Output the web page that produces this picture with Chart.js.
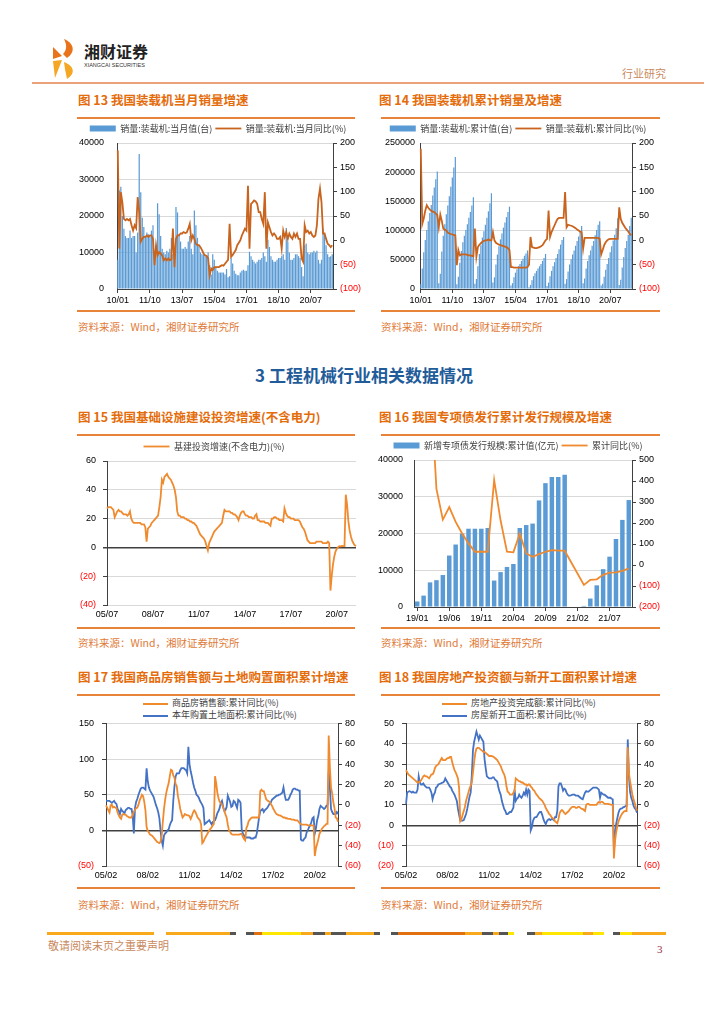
<!DOCTYPE html>
<html>
<head>
<meta charset="utf-8">
<script src="https://cdn.jsdelivr.net/npm/chart.js@4.4.0/dist/chart.umd.min.js"></script>
<style>
  body { margin: 0; width: 724px; height: 1024px; background: #fff; position: relative; overflow: hidden;
         font-family: "Noto Sans CJK SC", sans-serif; }
  .abs { position: absolute; white-space: nowrap; }
  .title { position: absolute; color: #E46C0A; font-weight: 700; font-size: 12.5px; line-height: 14px; white-space: nowrap; }
  .rule { position: absolute; height: 2px; background: #E8833A; }
  .src { position: absolute; color: #E07B39; font-size: 10.5px; line-height: 12px; white-space: nowrap; }
  canvas { position: absolute; }
  .lg { position: absolute; font-size: 9px; line-height: 11px; color: #404040; white-space: nowrap; }
  .lg i { display: inline-block; width: 25px; height: 2px; vertical-align: middle; margin-right: 4px; }
</style>
</head>
<body>

<!-- header -->
<svg class="abs" style="left:50px;top:38px" width="32" height="42" viewBox="0 0 32 42">
  <path d="M14 1 C24 5 26 14 17 20 L13 16 C17 12 17 7 14 1 Z" fill="#E8731A"/>
  <path d="M3 9 L12 18 L3 21 Z" fill="#E8731A"/>
  <path d="M3 23 L12 22 L5 40 Z" fill="#F5A623"/>
  <path d="M14 24 C24 28 26 35 17 41 L15 31 Z" fill="#F5A623"/>
</svg>
<div class="abs" style="left:84px;top:42px;font-size:16px;font-weight:700;color:#222;line-height:19px;">湘财证券</div>
<div class="abs" style="left:84px;top:62px;font-size:5.5px;color:#333;line-height:7px;font-family:'Liberation Sans',sans-serif;">XIANGCAI SECURITIES</div>
<div class="abs" style="left:622px;top:67px;font-size:11px;color:#C98A5E;line-height:13px;">行业研究</div>
<div class="abs" style="left:32px;top:82px;width:672px;height:2px;background:#E9A27A;"></div>

<!-- row 1 -->
<div class="title" style="left:78px;top:93px;">图 13 我国装载机当月销量增速</div>
<div class="title" style="left:379px;top:93px;">图 14 我国装载机累计销量及增速</div>
<div class="rule" style="left:77px;top:117px;width:278px;"></div>
<div class="rule" style="left:381px;top:117px;width:279px;"></div>
<canvas id="c13" width="292" height="187" style="left:72px;top:121px"></canvas>
<canvas id="c14" width="292" height="187" style="left:372px;top:121px"></canvas>
<div class="rule" style="left:77px;top:310px;width:278px;"></div>
<div class="rule" style="left:381px;top:310px;width:279px;"></div>
<div class="src" style="left:78px;top:321px;">资料来源：Wind，湘财证券研究所</div>
<div class="src" style="left:381px;top:321px;">资料来源：Wind，湘财证券研究所</div>

<div class="abs" style="left:0;width:728px;top:365px;text-align:center;font-size:17px;font-weight:700;color:#1F5C99;line-height:20px;">3 工程机械行业相关数据情况</div>

<!-- row 2 -->
<div class="title" style="left:78px;top:410px;">图 15 我国基础设施建设投资增速(不含电力)</div>
<div class="title" style="left:379px;top:410px;">图 16 我国专项债发行累计发行规模及增速</div>
<div class="rule" style="left:77px;top:434px;width:278px;"></div>
<div class="rule" style="left:381px;top:434px;width:279px;"></div>
<canvas id="c15" width="292" height="187" style="left:72px;top:437px"></canvas>
<canvas id="c16" width="292" height="189" style="left:372px;top:437px"></canvas>
<div class="rule" style="left:77px;top:627px;width:278px;"></div>
<div class="rule" style="left:381px;top:627px;width:279px;"></div>
<div class="src" style="left:78px;top:637px;">资料来源：Wind，湘财证券研究所</div>
<div class="src" style="left:381px;top:637px;">资料来源：Wind，湘财证券研究所</div>

<!-- row 3 -->
<div class="title" style="left:78px;top:670px;">图 17 我国商品房销售额与土地购置面积累计增速</div>
<div class="title" style="left:379px;top:670px;">图 18 我国房地产投资额与新开工面积累计增速</div>
<div class="rule" style="left:77px;top:694px;width:278px;"></div>
<div class="rule" style="left:381px;top:694px;width:279px;"></div>
<div class="lg" style="left:143px;top:697px;"><i style="background:#F08A2E"></i>商品房销售额:累计同比(%)</div>
<div class="lg" style="left:143px;top:709px;"><i style="background:#4472C4"></i>本年购置土地面积:累计同比(%)</div>
<div class="lg" style="left:442px;top:697px;"><i style="background:#F08A2E"></i>房地产投资完成额:累计同比(%)</div>
<div class="lg" style="left:442px;top:709px;"><i style="background:#4472C4"></i>房屋新开工面积:累计同比(%)</div>
<canvas id="c17" width="292" height="175" style="left:72px;top:710px"></canvas>
<canvas id="c18" width="292" height="175" style="left:372px;top:710px"></canvas>
<div class="rule" style="left:77px;top:887px;width:278px;"></div>
<div class="rule" style="left:381px;top:887px;width:279px;"></div>
<div class="src" style="left:78px;top:899px;">资料来源：Wind，湘财证券研究所</div>
<div class="src" style="left:381px;top:899px;">资料来源：Wind，湘财证券研究所</div>

<!-- footer -->
<div id="footbar"></div>
<div class="abs" style="left:48px;top:939px;font-size:11px;color:#C98A5E;line-height:13px;">敬请阅读末页之重要声明</div>
<div class="abs" style="left:657px;top:943px;font-size:11px;color:#A0304A;line-height:13px;font-family:'Liberation Serif',serif;">3</div>

<script>
// ---------- data ----------
function monthLabels(startYear, startMonth, count) {
  const out = [];
  for (let i = 0; i < count; i++) {
    const m = startMonth - 1 + i;
    const yy = (startYear + Math.floor(m / 12)) % 100;
    out.push(String(yy).padStart(2, '0') + '/' + String(m % 12 + 1).padStart(2, '0'));
  }
  return out;
}

// fig 13 / 14 : loader sales, 2010/01 - 2021/09
const months13 = monthLabels(2010, 1, 141);
const ticks13 = ['10/01', '11/10', '13/07', '15/04', '17/01', '18/10', '20/07'];
const sales13 = [
  8000, 27000, 28000, 20000, 16500, 14500, 14000, 14000, 16000, 14000, 14500, 14500,
  10000, 15500, 37000, 26500, 19500, 17000, 14500, 15500, 15000, 14500, 16000, 17500,
  8500, 12000, 23500, 20500, 14500, 11000, 10000, 9500, 10500, 10000, 11000, 14000,
  9500, 7500, 22500, 21000, 15000, 13000, 11000, 11000, 11500, 11000, 13000, 14500,
  11000, 9500, 21500, 17500, 14000, 12000, 10000, 9500, 9500, 9000, 9000, 10000,
  6500, 4000, 9500, 8000, 6000, 5000, 4500, 4500, 4500, 4500, 4000, 5500,
  3200, 3500, 8500, 7000, 5000, 4200, 3800, 3800, 4500, 5000, 5300, 5000,
  5000, 6500, 10200, 9000, 8000, 7500, 7000, 7500, 8000, 8000, 8500, 10000,
  9000, 7500, 13500, 11500, 9000, 8000, 7500, 7500, 8000, 8500, 8500, 9000,
  9500, 8000, 16700, 13000, 10000, 8000, 8000, 8500, 9500, 9500, 9000, 8500,
  6000, 3500, 12000, 12500, 10000, 9500, 10000, 10000, 10500, 10000, 10500, 8000,
  7000, 8000, 16500, 15000, 12000, 9500, 8800, 9000, 9500
];
const yoy13 = [
  185, -17, 99, 78, 44, 41, 44, 41, 44, 31, 20, 31,
  25, 89, 58, -3, 3, 7, 7, 10, 7, 10, 10, 3,
  -51, -10, -31, -24, -27, -31, -41, -37, -41, -37, -41, -39,
  24, -55, 3, 10, 10, 14, 14, 17, 15, 16, 24, 34,
  0, 10, 3, -7, -10, -10, -14, -20, -27, -31, -32, -37,
  -72, -58, -61, -55, -55, -55, -55, -53, -51, -52, -48, -44,
  -40, 34, -34, -30, -25, -20, -10, -5, 0, 10, 17, 24,
  20, 112, -17, 75, 78, 82, 80, 75, 58, 58, 44, 34,
  99, -17, 37, 27, 17, 10, 14, 10, 3, 3, 7, -17,
  20, 7, 17, 3, 14, 7, 3, 14, 7, 14, 3, 3,
  -37, -44, 31, 17, 20, 14, 17, 10, 7, 10, 31, 85,
  106, 78, 14, 14, 3, -7, -10, -14, -10
];
const cum14 = [
  8000, 35000, 63000, 84000, 101000, 116000, 130000, 144000, 160000, 174000, 188000, 201000,
  10000, 26000, 64000, 91000, 111000, 128000, 143000, 159000, 175000, 191000, 208000, 226000,
  8000, 21000, 45000, 65000, 80000, 91000, 101000, 111000, 122000, 132000, 143000, 157000,
  9000, 17000, 39000, 60000, 75000, 88000, 99000, 110000, 122000, 133000, 147000, 164000,
  11000, 20000, 42000, 59000, 73000, 85000, 95000, 105000, 114000, 123000, 132000, 141000,
  6000, 10000, 20000, 28000, 34000, 39000, 43000, 48000, 52000, 57000, 61000, 66000,
  3000, 7000, 15000, 22000, 27000, 31000, 35000, 39000, 43000, 48000, 53000, 60000,
  5000, 11000, 22000, 31000, 39000, 46000, 53000, 60000, 68000, 76000, 84000, 89000,
  9000, 17000, 30000, 42000, 51000, 59000, 66000, 74000, 82000, 90000, 99000, 108000,
  10000, 18000, 35000, 48000, 58000, 66000, 74000, 82000, 92000, 101000, 110000, 116000,
  6000, 9000, 21000, 33000, 43000, 53000, 63000, 73000, 83000, 93000, 104000, 121000,
  7000, 16000, 37000, 55000, 70000, 82000, 93000, 108000, 122000
];
const cumYoy14 = [
  188, 34, 45, 61, 72, 67, 63, 61, 59, 58, 55, 52,
  27, 53, 40, 24, 22, 20, 16, 14, 13, 12, 11, 10,
  -51, -20, -31, -29, -29, -29, -29, -30, -31, -31, -32, -33,
  24, -34, -14, -9, -6, -3, -1, 0, 0, 2, 0, 0,
  17, 0, -5, -7, -9, -10, -11, -12, -13, -14, -16, -20,
  -55, -55, -56, -56, -56, -56, -56, -56, -56, -56, -56, -55,
  -50, 7, -14, -15, -16, -16, -15, -14, -12, -10, -5, 0,
  3, 61, 7, 17, 24, 31, 38, 44, 46, 46, 46, 46,
  99, 27, 32, 31, 30, 29, 27, 25, 22, 20, 18, 17,
  -17, 5, 5, 5, 5, 5, 5, 5, 5, 5, 5, 3,
  -29, -20, -10, -4, 0, 2, 3, 3, 3, 3, 3, 3,
  68, 44, 36, 31, 26, 22, 18, 13, 10
];

// fig 15 : infrastructure investment growth, 2005/07 - 2021/10
const months15 = monthLabels(2005, 7, 196);
const ticks15 = ['05/07', '08/07', '11/07', '14/07', '17/07', '20/07'];
const infra15 = [
  27, 28, 28, 28, 27, 26, 21, 23, 25, 26, 25, 25,
  24, 23, 23, 23, 22, 23, 25, 20, 18, 17, 17, 17,
  17, 17, 17, 16, 16, 16, 14, 4, 13, 14, 15, 17,
  18, 19, 20, 21, 22, 28, 35, 47, 45, 49, 50, 51,
  49, 48, 47, 45, 43, 40, 35, 25, 22, 22, 21, 21,
  21, 20, 20, 19, 19, 18, 18, 17, 17, 16, 15, 13,
  11, 9, 8, 7, 6, 4, 1, -2, 3, 5, 7, 9,
  11, 12, 13, 14, 15, 16, 17, 22, 26, 25, 25, 25,
  25, 24, 24, 23, 23, 22, 21, 19, 22, 24, 25, 25,
  23, 22, 22, 21, 21, 21, 20, 20, 22, 23, 19, 19,
  18, 18, 18, 18, 17, 17, 17, 16, 15, 20, 20, 21,
  21, 20, 20, 19, 19, 19, 18, 27, 24, 22, 21, 21,
  20, 20, 20, 19, 19, 19, 19, 18, 16, 14, 13, 11,
  8, 5, 4, 3, 3, 3, 3, 3, 4, 4, 4, 4,
  4, 3, 3, 3, 3, 4, 3, -30, -19.7, -11.8, -6.3, -2.7,
  -1, 0.2, 0.8, 0.7, 1.0, 0.9, 0.9, 36.6, 29.7, 18.4, 11.8, 7.8,
  4.6, 2.9, 1.5, 1.0
];

// fig 16 : special bond issuance, 2019/01 - 2021/10
const months16 = monthLabels(2019, 1, 34);
const ticks16 = ['19/01', '19/06', '19/11', '20/04', '20/09', '21/02', '21/07'];
const bond16 = [
  1500, 3100, 6700, 7300, 8700, 14000, 17000, 20000, 21300, 21300, 21300, 21500,
  7200, 9500, 10900, 11700, 21500, 22300, 22700, 29000, 33700, 35400, 35400, 36000,
  0, 0, 300, 2300, 5900, 10300, 13700, 18500, 23700, 29100
];
const bondYoy16 = [
  null, null, 900, 362, 216, 276, 205, 150, 103, 63, 63, 63,
  405, 213, 63, 60, 150, 55, 39, 52, 63, 71, 68, 68,
  null, null, -95, -71, -68, -47, -36, -35, -28, -16
];

// fig 17 / 18 : property, 2005/02 - 2021/10
const months17 = monthLabels(2005, 2, 201);
const ticks17 = ['05/02', '08/02', '11/02', '14/02', '17/02', '20/02'];
const sales17 = [
  35, 32, 28, 25, 35, 36, 32, 33, 32, 31, 25, 21,
  18, 16, 22, 23, 22, 22, 20, 19, 18, 18, 18, 22,
  26, 29, 31, 32, 36, 42, 46, 50, 48, 40, 28, 5,
  -1, -3, -6, -7, -8, -10, -12, -14, -16, -17, -18, -16,
  -8, 12, 30, 43, 53, 60, 66, 76, 85, 84, 77, 74,
  65, 62, 48, 40, 30, 24, 18, 20, 23, 22, 21, 21,
  20, 16, 20, 25, 28, 26, 22, 18, 16, 14, 8, -18,
  -16, -12, -9, -6, -3, 0, 2, 4, 7, 9, 76, 66,
  53, 45, 40, 38, 36, 32, 28, 22, 18, 8, 0, -2,
  -5, -6, -6, -6, -6, -6, -6, -6, -5, -5, -9, -12,
  -14, 3, 7, 13, 15, 17, 18, 18, 18, 18, 18, 18,
  18, 55, 57, 55, 55, 50, 44, 42, 41, 40, 37, 35,
  31, 28, 25, 23, 22, 21, 21, 20, 19, 18, 18, 17,
  17, 16, 16, 16, 15, 15, 15, 14, 14, 14, 12, 10,
  9, 8, 8, 8, 8, 8, 7, 7, 7, 7, 7, 6.5,
  -36, -25, -19, -13, -5, -2, 2, 4, 6, 7, 9, 9,
  133, 88, 60, 52, 39, 31, 18, 17, 12
];
const land17 = [
  4, 4, 4, 4, 3, 2, 3, 4, 2, 1, -4, -6,
  -9, -4, -6, -7, -8, -5, -4, -3, -3, -4, -4, -10,
  -28, -3, 3, 6, 10, 13, 16, 17, 17, 16, 15, 36,
  23, 17, 14, 12, 10, 8, 4, 0, -3, -7, -13, -25,
  -35, -40, -30, -28, -27, -25, -24, -20, -17, -15, 4, 18,
  28, 31, 31, 31, 34, 36, 36, 36, 35, 34, 31, 57,
  40, 33, 28, 22, 17, 14, 10, 9, 7, 4, 2, 0,
  -3, -19, -18, -17, -16, -15, -17, -19, -17, -16, -15, -12,
  -8, -6, -3, 2, 4, -2, -6, -5, -2, 9, 6, 3,
  -2, -1, 4, 3, 0, -3, 5, 4, 2, -24, -28, -30,
  -32, -32, -32, -32, -32, -33, -33, -33, -32, -32, -28, -20,
  -12, -6, -5, -4, -7, -5, -4, -3, -1, 1, 2, 5,
  6, 7, 8, 9, 9, 10, 10, 11, 12, 17, 10, 5,
  5, 5, 7, 10, 12, 15, 16, 16, 15, 15, 14, 14,
  -34, -35, -35, -33, -32, -27, -25, -22, -20, -17, -13, -12,
  -28, -23, -15, -11, -4, -1, -2, -3, -4, -3, -1, 0,
  33, 17, -4, -7, -9, -9, -9, -7, -9
];
const invest18 = [
  27, 26, 25, 24.5, 24, 23.5, 23, 22.5, 22, 21.5, 21, 21,
  21.5, 22, 23, 24, 24.5, 24, 24, 23.5, 23, 24, 25, 25,
  26, 28, 29, 29.5, 30, 31, 32, 33, 32, 32, 32, 32.5,
  33, 33, 33.5, 33.5, 31, 29, 27, 26, 24.5, 23, 18, 2,
  3, 5, 7, 9, 12, 14, 16, 18, 19.5, 21, 26, 31,
  35.5, 37.6, 38, 38, 37.5, 37, 36.5, 36, 36, 35.5, 35, 34.5,
  34, 34, 34, 33.8, 33.5, 33, 32.5, 32, 31, 30, 29, 27.5,
  26, 25, 23, 19, 16.5, 16, 15, 15, 15, 16, 17, 23,
  22.5, 22, 21.5, 21.5, 21, 21, 20.5, 20, 20, 19.5, 20, 20,
  19, 18.5, 17.5, 17, 16, 15, 14.5, 13.5, 13, 12.5, 12, 11,
  10, 8.5, 7.5, 6.5, 5.5, 5, 4, 3.5, 3, 2, 1.5, 1,
  3, 6, 7, 7.5, 7, 6, 5.5, 6, 6.5, 7, 8, 8.5,
  9, 9, 9, 8.5, 8.5, 9, 9, 8.5, 8, 8, 7.5, 7,
  10, 10.5, 10.5, 10, 10, 10, 10, 10, 10, 10, 11, 11.5,
  11, 11.5, 11.5, 11, 10.5, 10.5, 10.5, 10.5, 10.3, 10.2, 10, 10,
  -16.3, -7.7, -3.3, -0.3, 1.9, 3.4, 4.6, 5.6, 6.3, 6.8, 7.0, 7.0,
  38.3, 25.6, 21.6, 18.3, 15.0, 12.7, 10.9, 8.8, 7.2
];
const starts18 = [
  1, 12, 13, 13.5, 13, 12, 13, 12, 12, 12, 15, 28,
  22, 20, 20, 21, 19, 18, 17, 17, 17, 15, 12, 5.5,
  10, 12, 17, 18, 20, 20.5, 21, 21.6, 22, 23, 26, 24,
  22, 20, 18, 17, 14, 12, 10, 7, 4, -4, -10, -15.5,
  -15.5, -15.5, -15, -12, -9, -4, 2, 8, 12, 30, 54, 62,
  67, 72, 68, 64, 68, 66, 64, 62, 45, 36, 28, 27,
  26, 26, 26, 27, 27, 25, 24, 23, 17, 13, 10, 4,
  0, -4, -6, -9, -9, -8, -7, -7, -5, -2.6, 15, 4,
  6, 7, 10, 8, 7, 9, 12, 10, 15, 10, 15, 13.5,
  -25, -22, -15.5, -13, -12, -12, -10, -8, -7, -7, -10, -14,
  -17, -19, -16, -14.5, -14, -15, -14, -14, -15, -12, -12, -6,
  18, 21, 21, 18, 14, 16, 15, 12, 10, 9, 9, 9.5,
  10, 10, 10, 9, 9, 9, 8, 7, 6, 5.5, 9, 12,
  13.5, 13, 13, 14, 15, 16, 17, 17, 17, 17, 16, 15,
  7, 12, 11, 10, 10, 9, 8, 7, 7, 7, 6, 5.5,
  -44.9, -27.2, -18.4, -12.8, -7.6, -4.5, -3.6, -3.4, -2.4, -2.0, -1.2, -1.2,
  64.3, 28.2, 12.8, 6.9, 3.8, -0.9, -3.2, -4.5, -7.7
];

// ---------- styling helpers ----------
const BLUE_BAR = '#5B9BD5';
const ORANGE_DARK = '#C8641E';
const ORANGE = '#F08A2E';
const BLUE_LINE = '#4472C4';
const AXIS = '#404040';
const GRID = '#D9D9D9';
const tickFont = { family: "'Liberation Sans', Arial, sans-serif", size: 9 };

function fmtTick(v) { return v < 0 ? '(' + Math.abs(v) + ')' : String(v); }
function tickColor(ctx) { return ctx.tick && ctx.tick.value < 0 ? '#FF0000' : '#000000'; }

function xTicks(show) {
  return function (value) {
    const label = this.getLabelForValue(value);
    return show.includes(label) ? label : null;
  };
}

function yScale(o) {
  return {
    position: o.pos, min: o.min, max: o.max,
    afterFit: s => { s.width = o.width; },
    ticks: { stepSize: o.step, padding: o.pad, color: tickColor, font: tickFont, callback: fmtTick },
    grid: o.grid,
    border: { display: true, color: AXIS, width: 1 }
  };
}

function xScale(show, o) {
  return {
    offset: o.offset,
    afterFit: s => { s.height = 19; },
    ticks: { autoSkip: false, maxRotation: 0, minRotation: 0, padding: o.pad, color: '#000', font: tickFont, callback: xTicks(show) },
    grid: o.grid,
    border: o.border
  };
}

const zeroGrid = {
  color: c => (c.tick && c.tick.value === 0 ? AXIS : GRID),
  lineWidth: c => (c.tick && c.tick.value === 0 ? 1.5 : 1),
  tickColor: AXIS, tickLength: 4
};
const rightGrid = { drawOnChartArea: false, color: AXIS, tickLength: 4 };
const noGrid = { display: false, drawTicks: false };

function legendOpts() {
  return {
    position: 'top',
    labels: {
      usePointStyle: true, pointStyleWidth: 26, boxHeight: 6, padding: 3,
      color: '#404040', font: { family: "'Noto Sans CJK SC', sans-serif", size: 9 },
      sort: (a, b) => a.datasetIndex - b.datasetIndex
    }
  };
}

Chart.defaults.animation = false;
Chart.defaults.font.family = "'Liberation Sans', Arial, sans-serif";

// ---------- fig 13 & 14 ----------
function loaderChart(id, labels, bars, line, barLabel, lineLabel, leftMax, leftStep, leftWidth, leftPad, rightWidth) {
  return new Chart(document.getElementById(id), {
    type: 'bar',
    data: {
      labels: labels,
      datasets: [
        { type: 'bar', label: barLabel, data: bars, yAxisID: 'y', order: 1,
          backgroundColor: BLUE_BAR, barPercentage: 0.8, categoryPercentage: 1, pointStyle: 'rect' },
        { type: 'line', label: lineLabel, data: line, yAxisID: 'y1', order: 0,
          borderColor: ORANGE_DARK, backgroundColor: ORANGE_DARK, borderWidth: 1.8,
          pointRadius: 0, pointStyle: 'line', tension: 0 }
      ]
    },
    options: {
      responsive: false,
      plugins: { legend: legendOpts(), tooltip: { enabled: false } },
      scales: {
        x: xScale(ticks13, { offset: true, pad: 2,
          grid: { display: true, drawOnChartArea: false, offset: false, color: AXIS, tickLength: 4 },
          border: { display: true, color: AXIS, width: 1 } }),
        y: yScale({ pos: 'left', min: 0, max: leftMax, step: leftStep, width: leftWidth, pad: leftPad,
          grid: { color: GRID, drawTicks: false } }),
        y1: yScale({ pos: 'right', min: -100, max: 200, step: 50, width: rightWidth, pad: 3, grid: rightGrid })
      }
    }
  });
}

loaderChart('c13', months13, sales13, yoy13, '销量:装载机:当月值(台)', '销量:装载机:当月同比(%)', 40000, 10000, 45, 13, 31);
loaderChart('c14', months13, cum14, cumYoy14, '销量:装载机:累计值(台)', '销量:装载机:累计同比(%)', 250000, 50000, 48, 5, 32);

// ---------- fig 15 ----------
new Chart(document.getElementById('c15'), {
  type: 'line',
  data: {
    labels: months15,
    datasets: [
      { label: '基建投资增速(不含电力)(%)', data: infra15, borderColor: ORANGE, backgroundColor: ORANGE,
        borderWidth: 1.8, pointRadius: 0, pointStyle: 'line', tension: 0 }
    ]
  },
  options: {
    responsive: false,
    layout: { padding: { top: 2, right: 8 } },
    plugins: { legend: legendOpts(), tooltip: { enabled: false } },
    scales: {
      x: xScale(ticks15, { offset: false, pad: 4, grid: noGrid, border: { display: false } }),
      y: yScale({ pos: 'left', min: -40, max: 60, step: 20, width: 35, pad: 7, grid: zeroGrid })
    }
  }
});

// ---------- fig 16 ----------
new Chart(document.getElementById('c16'), {
  type: 'bar',
  data: {
    labels: months16,
    datasets: [
      { type: 'bar', label: '新增专项债发行规模:累计值(亿元)', data: bond16, yAxisID: 'y', order: 1,
        backgroundColor: BLUE_BAR, barPercentage: 0.7, categoryPercentage: 1, pointStyle: 'rect' },
      { type: 'line', label: '累计同比(%)', data: bondYoy16, yAxisID: 'y1', order: 0,
        borderColor: ORANGE, backgroundColor: ORANGE, borderWidth: 1.8, pointRadius: 0,
        pointStyle: 'line', tension: 0, spanGaps: true }
    ]
  },
  options: {
    responsive: false,
    layout: { padding: { top: 1 } },
    plugins: { legend: legendOpts(), tooltip: { enabled: false } },
    scales: {
      x: xScale(ticks16, { offset: true, pad: 2,
        grid: { display: true, drawOnChartArea: false, offset: false, color: AXIS, tickLength: 4 },
        border: { display: true, color: AXIS, width: 1 } }),
      y: yScale({ pos: 'left', min: 0, max: 40000, step: 10000, width: 42, pad: 11, grid: { color: GRID, drawTicks: false } }),
      y1: yScale({ pos: 'right', min: -200, max: 500, step: 100, width: 32, pad: 3, grid: rightGrid })
    }
  }
});

// ---------- fig 17 & 18 ----------
function propertyChart(id, orangeData, blueData, orangeLabel, blueLabel, leftMin, leftMax, leftStep, leftWidth, rightWidth) {
  return new Chart(document.getElementById(id), {
    type: 'line',
    data: {
      labels: months17,
      datasets: [
        { label: orangeLabel, data: orangeData, yAxisID: 'y', borderColor: ORANGE, borderWidth: 1.8,
          pointRadius: 0, tension: 0 },
        { label: blueLabel, data: blueData, yAxisID: 'y1', borderColor: BLUE_LINE, borderWidth: 1.8,
          pointRadius: 0, tension: 0 }
      ]
    },
    options: {
      responsive: false,
      layout: { padding: { top: 12 } },
      plugins: { legend: { display: false }, tooltip: { enabled: false } },
      scales: {
        x: xScale(ticks17, { offset: false, pad: 4, grid: noGrid, border: { display: false } }),
        y: yScale({ pos: 'left', min: leftMin, max: leftMax, step: leftStep, width: leftWidth, pad: 8, grid: zeroGrid }),
        y1: yScale({ pos: 'right', min: -60, max: 80, step: 20, width: rightWidth, pad: 3, grid: rightGrid })
      }
    }
  });
}

propertyChart('c17', sales17, land17, '商品房销售额:累计同比(%)', '本年购置土地面积:累计同比(%)', -50, 150, 50, 34, 26);
propertyChart('c18', invest18, starts18, '房地产投资完成额:累计同比(%)', '房屋新开工面积:累计同比(%)', -20, 50, 10, 34, 27);

// ---------- footer colour strip ----------
const footSegments = [
  [47, 154, '#F7A81B'], [166, 230, '#F7A81B'], [230, 236, '#555'],
  [246, 254, '#555'], [254, 262, '#E07010'], [262, 301, '#FFE600'], [301, 313, '#F7A81B'],
  [313, 325, '#555'], [325, 331, '#F7A81B'], [331, 346, '#555'], [346, 374, '#F7A81B'], [374, 380, '#555'],
  [391, 398, '#555'], [398, 465, '#E07010'], [465, 482, '#F7A81B'], [482, 493, '#555'],
  [493, 499, '#F7A81B'], [499, 508, '#555'], [508, 514, '#FFE600'],
  [527, 535, '#555'], [535, 542, '#F7A81B'], [542, 583, '#FFE600'], [583, 593, '#F7A81B'], [593, 604, '#FFE600'],
  [613, 620, '#555'], [620, 632, '#FFE600'], [632, 666, '#F7A81B']
];
const bar = document.getElementById('footbar');
footSegments.forEach(s => {
  const d = document.createElement('div');
  d.style.cssText = 'position:absolute;top:932px;height:3px;left:' + s[0] + 'px;width:' + (s[1] - s[0]) + 'px;background:' + s[2];
  bar.appendChild(d);
});
</script>
</body>
</html>
